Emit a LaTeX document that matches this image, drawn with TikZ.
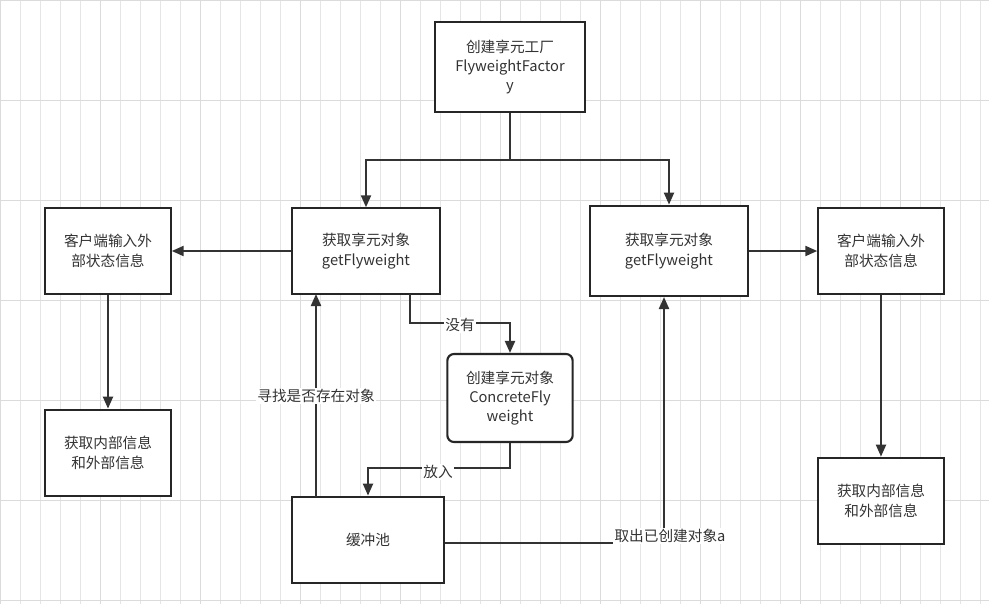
\documentclass[tikz,border=0pt]{standalone}
\usepackage{fontspec}
\setmainfont{Noto Sans CJK SC}
\usetikzlibrary{arrows.meta}
\begin{document}
\begin{tikzpicture}[x=0.75pt,y=-0.75pt,
  box/.style={draw=black!85,line width=1.6pt,fill=white,minimum width=#1,align=center,text=black!80,font=\fontsize{11}{14.5}\selectfont},
  ln/.style={draw=black!80,line width=1.6pt},
  ar/.style={ln,-{Triangle[length=9pt,width=7.5pt]}},
  lbl/.style={fill=white,text=black!80,font=\fontsize{11}{13}\selectfont,inner sep=1pt}]
\useasboundingbox (0,0) rectangle (989,604);
\fill[white] (0,0) rectangle (989,604);
\draw[black!10,line width=0.4pt] (0,0) grid[step=20] (989,604);
\foreach \x in {0,100,...,900} \draw[black!14,line width=0.6pt] (\x,0) -- (\x,604);
\foreach \y in {0,100,...,600} \draw[black!14,line width=0.6pt] (0,\y) -- (989,\y);
\node[box=113pt,minimum height=68pt] (fac) at (510,67) {创建享元工厂\\FlyweightFactor\\y};
\node[box=111pt,minimum height=64pt] (gl) at (366,251) {获取享元对象\\getFlyweight};
\node[box=118pt,minimum height=68pt] (gr) at (669,251) {获取享元对象\\getFlyweight};
\node[box=94pt,minimum height=65pt] (cl) at (108,251) {客户端输入外\\部状态信息};
\node[box=94pt,minimum height=65pt] (cr) at (881,251) {客户端输入外\\部状态信息};
\node[box=94pt,minimum height=65pt] (il) at (108,453) {获取内部信息\\和外部信息};
\node[box=94pt,minimum height=65pt] (ir) at (881,501) {获取内部信息\\和外部信息};
\node[box=94pt,minimum height=66pt,rounded corners=5pt] (cc) at (510,398) {创建享元对象\\ConcreteFly\\weight};
\node[box=114pt,minimum height=65pt] (pool) at (368,540) {缓冲池};
\coordinate (j) at (510,160);
\draw[ln] (fac.south) -- (j);
\draw[ar] (j) -| (gl.north);
\draw[ar] (j) -| (gr.north);
\draw[ar] (gl) -- (cl);
\draw[ar] (gr) -- (cr);
\draw[ar] (cl) -- (il);
\draw[ar] (cr) -- (ir);
\draw[ar] (410,294) -- (410,323) -| (cc.north);
\node[lbl] at (460,325) {没有};
\draw[ar] (cc.south) -- (510,468) -| (pool.north);
\node[lbl] at (438,472) {放入};
\draw[ar] (316,497) -- (316,294);
\node[lbl] at (316,396) {寻找是否存在对象};
\draw[ar] (pool.east|-0,543) -- (664,543) -- (664,297);
\node[lbl] at (670,536) {取出已创建对象a};
\end{tikzpicture}
\end{document}
